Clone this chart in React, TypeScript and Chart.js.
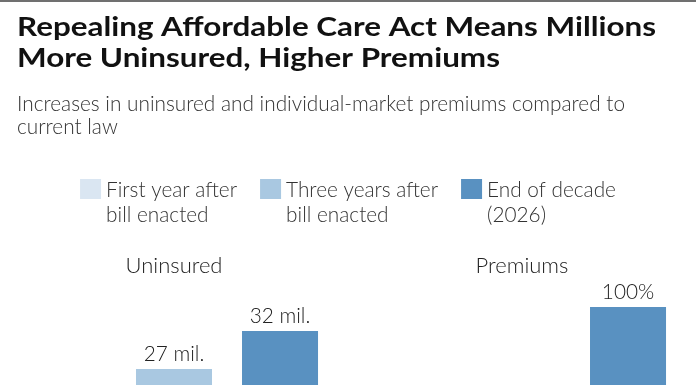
import React, { useEffect, useRef } from 'react';
import { Chart, registerables } from 'chart.js';

Chart.register(...registerables);

// ---------- data ----------
const TITLE_LINES = ['Repealing Affordable Care Act Means Millions', 'More Uninsured, Higher Premiums'];
const SUBTITLE_LINES = ['Increases in uninsured and individual-market premiums compared to', 'current law'];
const CATEGORIES = ['Uninsured', 'Premiums'];
const SERIES_NAMES = [
  ['First year after', 'bill enacted'],
  ['Three years after', 'bill enacted'],
  ['End of decade', '(2026)'],
];
const UNINSURED_MIL = [18, 27, 32];
const PREMIUM_PCT = [25, 50, 100];
const COLORS = ['#dae6f2', '#a9c8e1', '#5991c1'];

// ---------- styles ----------
const FONT_FAMILY = 'Lato';
const TITLE_FONT = `700 27px ${FONT_FAMILY}`;
const LIGHT_FONT = `300 22px ${FONT_FAMILY}`;
const TITLE_TARGET_W = 639;
const SUB_TARGET_W = 608;

function drawScaled(ctx: CanvasRenderingContext2D, text: string, x: number, y: number, scale: number) {
  const w = ctx.measureText(text).width;
  ctx.fillText(text, x, y, w * scale);
}

function drawStretched(ctx: CanvasRenderingContext2D, text: string, x: number, y: number, sx: number) {
  ctx.save();
  ctx.translate(x, y);
  ctx.scale(sx, 1);
  ctx.fillText(text, 0, 0);
  ctx.restore();
}

const headerPlugin = {
  id: 'headerPlugin',
  beforeDraw(chart: any) {
    const ctx: CanvasRenderingContext2D = chart.ctx;
    const W = chart.width;
    ctx.save();
    ctx.fillStyle = '#ffffff';
    ctx.fillRect(0, 0, W, chart.height);
    // top rule
    ctx.fillStyle = '#707070';
    ctx.fillRect(0, 0, W, 2);

    ctx.textBaseline = 'alphabetic';
    ctx.textAlign = 'left';
    // title
    ctx.font = TITLE_FONT;
    ctx.fillStyle = '#111111';
    const tScale = TITLE_TARGET_W / ctx.measureText(TITLE_LINES[0]).width;
    drawStretched(ctx, TITLE_LINES[0], 17, 36, tScale);
    drawStretched(ctx, TITLE_LINES[1], 17, 67, tScale);

    // subtitle
    ctx.font = LIGHT_FONT;
    ctx.fillStyle = '#333333';
    const sScale = Math.min(1, SUB_TARGET_W / ctx.measureText(SUBTITLE_LINES[0]).width);
    drawScaled(ctx, SUBTITLE_LINES[0], 17, 111, sScale);
    drawScaled(ctx, SUBTITLE_LINES[1], 17, 134, sScale);

    // legend
    const box = 21;
    const boxGap = 5;
    const itemGap = 23;
    const widths = SERIES_NAMES.map(
      (lines) => box + boxGap + Math.max(...lines.map((l) => ctx.measureText(l).width * sScale))
    );
    const total = widths.reduce((a, b) => a + b, 0) + itemGap * (widths.length - 1);
    let x = (W - total) / 2;
    SERIES_NAMES.forEach((lines, i) => {
      ctx.fillStyle = COLORS[i];
      ctx.fillRect(x, 179, box, 20);
      ctx.fillStyle = '#333333';
      lines.forEach((l, j) => drawScaled(ctx, l, x + box + boxGap, 197 + j * 25, sScale));
      x += widths[i] + itemGap;
    });
    (chart as any).$lightScale = sScale;
    ctx.restore();
  },
};

const valueLabelPlugin = {
  id: 'valueLabelPlugin',
  afterDatasetsDraw(chart: any) {
    const ctx: CanvasRenderingContext2D = chart.ctx;
    ctx.save();
    ctx.font = LIGHT_FONT;
    ctx.fillStyle = '#222222';
    ctx.textAlign = 'center';
    ctx.textBaseline = 'alphabetic';
    const scale = chart.$lightScale || 1;
    chart.data.datasets.forEach((ds: any, di: number) => {
      const meta = chart.getDatasetMeta(di);
      meta.data.forEach((el: any, i: number) => {
        const v = ds.data[i];
        if (v === null || v === undefined) return;
        const txt = ds.yAxisID === 'y' ? `${v} mil.` : `${v}%`;
        drawScaled(ctx, txt, el.x, el.y - 8, scale);
      });
    });
    ctx.restore();
  },
};

export default function App() {
  const canvasRef = useRef<HTMLCanvasElement | null>(null);

  useEffect(() => {
    document.body.style.margin = '0';
    const canvas = canvasRef.current;
    if (!canvas) return;
    const datasets: any[] = [
      ...SERIES_NAMES.map((n, i) => ({
        label: n.join(' '),
        data: [UNINSURED_MIL[i], null],
        backgroundColor: COLORS[i],
        yAxisID: 'y',
        skipNull: true,
      })),
      ...SERIES_NAMES.map((n, i) => ({
        label: n.join(' '),
        data: [null, PREMIUM_PCT[i]],
        backgroundColor: COLORS[i],
        yAxisID: 'y2',
        skipNull: true,
      })),
    ];
    const chart = new Chart(canvas, {
      type: 'bar',
      data: { labels: CATEGORIES, datasets },
      options: {
        responsive: true,
        maintainAspectRatio: false,
        animation: false,
        datasets: { bar: { barPercentage: 0.717, categoryPercentage: 0.914 } },
        layout: { padding: { top: 243, bottom: 26, left: 0, right: 0 } },
        plugins: {
          legend: { display: false },
          title: { display: false },
          tooltip: { enabled: false },
        },
        scales: {
          x: {
            position: 'top',
            grid: { display: false, drawTicks: false },
            border: { display: false },
            ticks: { font: { family: FONT_FAMILY, size: 22, weight: '300' }, color: '#222222', padding: 10 },
          },
          y: { display: false, min: 0, max: 37.48 },
          y2: { display: false, min: 0, max: 106.6 },
        },
      } as any,
      plugins: [headerPlugin, valueLabelPlugin],
    });
    return () => chart.destroy();
  }, []);

  return (
    <div style={{ width: 696, height: 385, overflow: 'hidden' }}>
      <div style={{ position: 'relative', width: 696, height: 600 }}>
        <canvas ref={canvasRef} />
      </div>
    </div>
  );
}
